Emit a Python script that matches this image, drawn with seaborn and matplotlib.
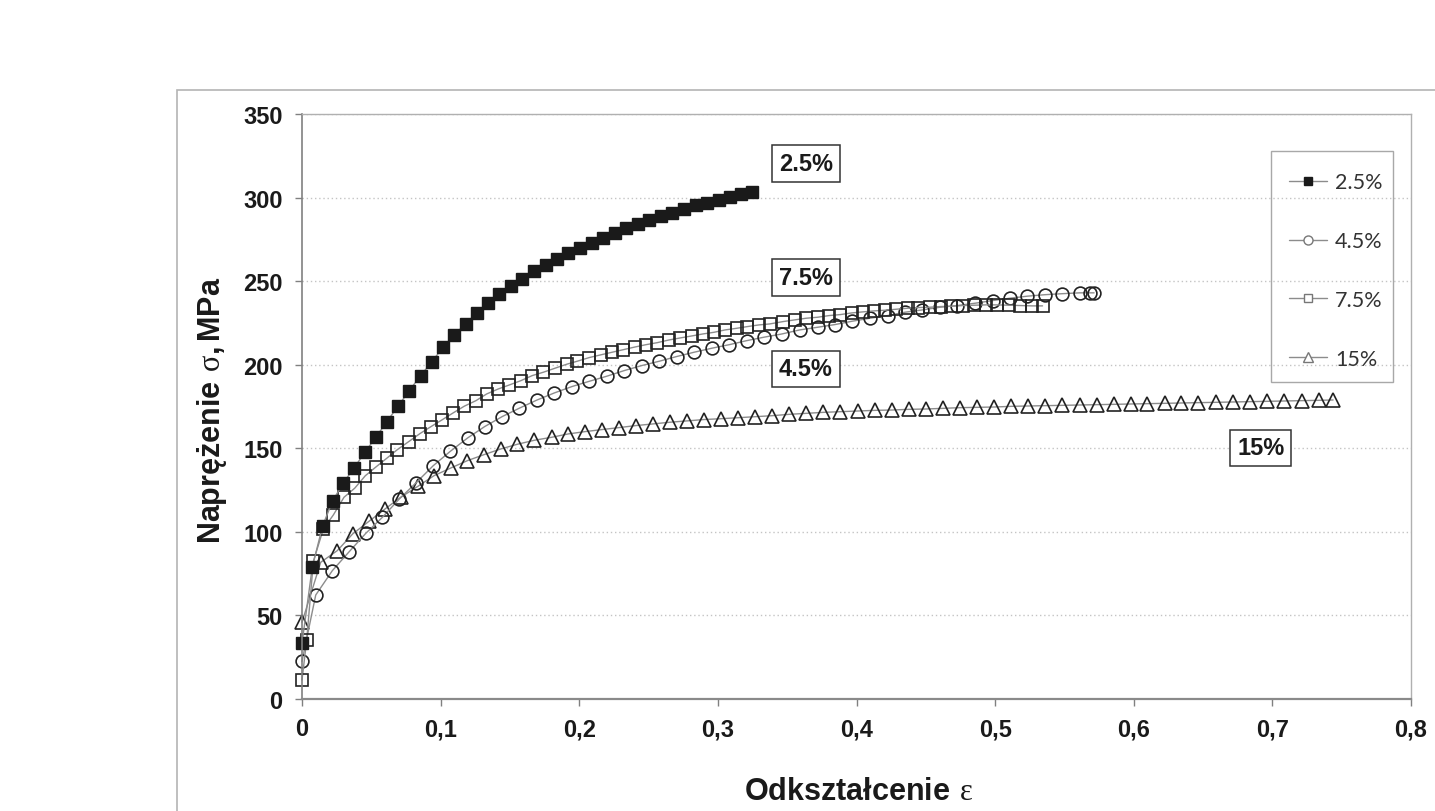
import numpy as np
import pandas as pd
import matplotlib
matplotlib.use("Agg")
import matplotlib.pyplot as plt
import seaborn as sns
from matplotlib.lines import Line2D
from matplotlib.patches import Rectangle

# strain (odkształcenie) and stress (naprężenie)
x25 = [0, 0.0074, 0.0149, 0.0221, 0.0298, 0.0375, 0.0457, 0.0536, 0.0613, 0.0695,
       0.0774, 0.0856, 0.0938, 0.1017, 0.1099, 0.1181, 0.126, 0.1344, 0.1424, 0.1508,
       0.159, 0.1674, 0.1758, 0.184, 0.1921, 0.2005, 0.209, 0.2174, 0.2256, 0.2337,
       0.2422, 0.2505, 0.259, 0.2671, 0.2756, 0.284, 0.2919, 0.3008, 0.3088, 0.3165, 0.3244]
y25 = [33.3, 78.8, 103.7, 118.5, 129.3, 138.2, 148.0, 157.0, 166.0, 175.5,
       184.5, 193.5, 201.9, 210.4, 217.8, 224.6, 230.8, 236.8, 242.2, 246.8,
       251.4, 256.0, 259.7, 263.3, 266.9, 270.1, 273.1, 276.1, 278.9, 281.5,
       284.1, 286.5, 288.9, 291.0, 293.0, 295.3, 297.0, 298.8, 300.6, 302.0, 303.4]

x45 = [0, 0.0099, 0.0219, 0.0339, 0.046, 0.058, 0.0702, 0.0822, 0.0947, 0.107,
       0.1195, 0.1318, 0.1445, 0.1568, 0.1693, 0.182, 0.1946, 0.2073, 0.2198, 0.2325,
       0.2451, 0.2578, 0.2703, 0.283, 0.2958, 0.3083, 0.3208, 0.3335, 0.3462, 0.3589,
       0.3719, 0.3843, 0.3967, 0.4097, 0.4224, 0.4349, 0.4476, 0.4603, 0.4727, 0.4856,
       0.4983, 0.5108, 0.5232, 0.5361, 0.5486, 0.561, 0.5686, 0.5714]
y45 = [22.5, 62.2, 76.8, 88.0, 99.1, 108.7, 119.7, 129.3, 139.6, 148.2,
       156.2, 163.0, 169.0, 174.0, 178.8, 183.1, 186.9, 190.1, 193.1, 196.5,
       199.5, 202.1, 204.9, 207.5, 209.9, 212.0, 214.4, 216.5, 218.4, 220.8,
       222.4, 224.0, 226.0, 227.8, 229.4, 231.4, 232.8, 234.4, 235.4, 236.8,
       238.4, 239.8, 241.0, 241.9, 242.5, 243.0, 243.0, 243.0]

x75 = [0, 0.0034, 0.0082, 0.0154, 0.0226, 0.0303, 0.038, 0.0457, 0.0536, 0.0611,
       0.0688, 0.077, 0.0851, 0.0931, 0.1012, 0.1091, 0.1171, 0.1255, 0.1332, 0.1416,
       0.1496, 0.158, 0.1661, 0.1741, 0.1825, 0.191, 0.1986, 0.2073, 0.2155, 0.2239,
       0.2318, 0.2402, 0.2482, 0.2563, 0.2647, 0.2727, 0.2811, 0.2891, 0.2972, 0.3051,
       0.3136, 0.3212, 0.3295, 0.3374, 0.347, 0.3553, 0.3636, 0.3719, 0.3802, 0.3884,
       0.3967, 0.4045, 0.4127, 0.4205, 0.4287, 0.437, 0.4447, 0.453, 0.4608, 0.4685,
       0.4768, 0.4851, 0.4934, 0.5016, 0.51, 0.5182, 0.5265, 0.5342]
y75 = [11.4, 35.3, 82.4, 101.7, 110.1, 120.7, 126.1, 133.6, 139.0, 144.0,
       149.2, 154.0, 158.8, 163.0, 167.1, 171.2, 175.2, 178.5, 182.5, 185.5,
       187.9, 190.5, 193.5, 195.5, 197.9, 200.3, 202.1, 204.3, 205.9, 207.5,
       209.0, 210.6, 212.0, 213.2, 214.8, 216.0, 217.2, 218.4, 219.4, 220.8,
       221.8, 222.8, 223.8, 224.4, 225.8, 226.8, 227.8, 228.4, 229.4, 230.0,
       231.0, 231.6, 232.2, 232.6, 233.2, 233.8, 234.2, 234.4, 234.8, 235.0,
       235.4, 235.6, 235.8, 235.8, 235.6, 235.4, 235.2, 235.2]

x15 = [0, 0.0135, 0.0255, 0.0366, 0.0483, 0.0599, 0.0712, 0.0837, 0.0952, 0.1073,
       0.1193, 0.1313, 0.1434, 0.1553, 0.1676, 0.1802, 0.1921, 0.2044, 0.2164, 0.2289,
       0.241, 0.2535, 0.2655, 0.278, 0.29, 0.3023, 0.3148, 0.3268, 0.3391, 0.3512,
       0.3636, 0.376, 0.3884, 0.4009, 0.4133, 0.4257, 0.4376, 0.45, 0.4624, 0.4746,
       0.487, 0.4994, 0.5118, 0.5237, 0.5361, 0.5486, 0.561, 0.5734, 0.5859, 0.5978,
       0.6099, 0.6223, 0.6342, 0.6466, 0.6591, 0.6714, 0.6839, 0.6963, 0.7087, 0.7212,
       0.7335, 0.7438]
y15 = [45.9, 81.8, 88.8, 98.8, 106.3, 113.7, 120.7, 127.3, 133.6, 138.2,
       142.6, 146.2, 149.6, 152.4, 154.8, 156.6, 158.6, 160.0, 161.2, 162.4,
       163.6, 164.6, 165.6, 166.4, 167.2, 167.7, 168.3, 168.9, 169.5, 170.3,
       170.9, 171.5, 171.9, 172.3, 172.7, 172.9, 173.3, 173.5, 173.9, 174.3,
       174.5, 174.7, 175.1, 175.3, 175.5, 175.7, 175.9, 176.1, 176.3, 176.5,
       176.7, 176.9, 177.1, 177.3, 177.5, 177.7, 177.9, 178.1, 178.3, 178.5,
       178.7, 178.9]

series_labels = ["2.5%", "4.5%", "7.5%", "15%"]
xticks = [0, 0.1, 0.2, 0.3, 0.4, 0.5, 0.6, 0.7, 0.8]
xtick_labels = ["0", "0,1", "0,2", "0,3", "0,4", "0,5", "0,6", "0,7", "0,8"]
yticks = [0, 50, 100, 150, 200, 250, 300, 350]

# boxed labels next to the curves: (text, x, y)
box_labels = [("2.5%", 0.3635, 320.4), ("7.5%", 0.3636, 252.2),
              ("4.5%", 0.3636, 197.5), ("15%", 0.6916, 150.2)]

sns.set_theme(style="white")
plt.rcParams["font.family"] = ["Liberation Sans", "DejaVu Sans"]
plt.rcParams["mathtext.fontset"] = "custom"
plt.rcParams["mathtext.rm"] = "Liberation Serif"
plt.rcParams["mathtext.bf"] = "Liberation Sans:bold"

fig = plt.figure(figsize=(14.35, 8.12), dpi=100)
ax = fig.add_axes([302 / 1435, 112 / 812, 1109 / 1435, 585 / 812])

# outer chart-area frame
fig.add_artist(Rectangle((177 / 1435, -0.2), 1.0, 0.2 + 721 / 812,
                         transform=fig.transFigure, fill=False,
                         ec="#b4b4b4", lw=1.2))

line_c = "#8c8c8c"
edge_c = "#222222"
common = dict(ax=ax, sort=False, estimator=None, color=line_c, lw=1.0,
              legend=False, clip_on=False)

# drawn back to front: 15%, 4.5%, 7.5%, 2.5%
sns.lineplot(x=x15, y=y15, marker="^", markersize=10, markerfacecolor="none",
             markeredgecolor=edge_c, markeredgewidth=1.2, **common)
sns.lineplot(x=x45, y=y45, marker="o", markersize=9.2, markerfacecolor="none",
             markeredgecolor=edge_c, markeredgewidth=1.2, **common)
sns.lineplot(x=x75, y=y75, marker="s", markersize=8.4, markerfacecolor="none",
             markeredgecolor=edge_c, markeredgewidth=1.2, **common)
sns.lineplot(x=x25, y=y25, marker="s", markersize=8.6, markerfacecolor="#1a1a1a",
             markeredgecolor="#1a1a1a", markeredgewidth=1.0, **common)

ax.set_xlim(0, 0.8)
ax.set_ylim(0, 350)
ax.set_xticks(xticks)
ax.set_xticklabels(xtick_labels)
ax.set_yticks(yticks)
ax.set_xlabel("")
ax.set_ylabel("")
ax.yaxis.grid(True, linestyle=(0, (1, 2)), color="#c4c4c4", lw=1)
ax.xaxis.grid(False)

for side in ["top", "right"]:
    ax.spines[side].set_color("#b0b0b0")
    ax.spines[side].set_linewidth(1.0)
ax.spines["left"].set_color("#808080")
ax.spines["left"].set_linewidth(1.2)
ax.spines["bottom"].set_color("#8a8a8a")
ax.spines["bottom"].set_linewidth(1.6)

ax.tick_params(axis="both", direction="out", length=5, width=1, color="#808080",
               labelsize=17, labelcolor="#1a1a1a")
ax.tick_params(axis="y", pad=9, left=True)
ax.tick_params(axis="x", pad=8, bottom=True)
for lbl in ax.get_xticklabels() + ax.get_yticklabels():
    lbl.set_fontweight("bold")

for txt, bx, by in box_labels:
    ax.text(bx, by, txt, ha="center", va="center", fontsize=17, fontweight="bold",
            color="#1a1a1a",
            bbox=dict(boxstyle="square,pad=0.28", fc="white", ec="#333333", lw=1.1))

# legend: entries without frame, frame drawn as its own box
handles = [
    Line2D([], [], color=line_c, lw=1, marker="s", markersize=6, mfc="#1a1a1a", mec="#1a1a1a"),
    Line2D([], [], color=line_c, lw=1, marker="o", markersize=6.5, mfc="white", mec="#777777"),
    Line2D([], [], color=line_c, lw=1, marker="s", markersize=6, mfc="white", mec="#777777"),
    Line2D([], [], color=line_c, lw=1, marker="^", markersize=7, mfc="white", mec="#777777"),
]
leg = ax.legend(handles, series_labels, loc="upper left",
                bbox_to_anchor=((1289 - 302) / 1109, (700 - 173.5) / 585),
                borderaxespad=0, borderpad=0, frameon=False,
                handlelength=1.75, handletextpad=0.38, labelspacing=1.8,
                prop={"family": "Lato", "size": 15.5})
for t in leg.get_texts():
    t.set_color("#333333")
fig.add_artist(Rectangle((1271 / 1435, 1 - 383 / 812), 122 / 1435, 231 / 812,
                         transform=fig.transFigure, fill=False,
                         ec="#a8a8a8", lw=1.0))

fig.text(858 / 1435, 1 - 791.7 / 812, r"$\mathbf{Odkształcenie}\ \mathrm{ε}$",
         ha="center", va="center", fontsize=22, color="#1a1a1a")
fig.text(212 / 1435, 1 - 410 / 812, r"$\mathbf{Naprężenie}\ \mathrm{σ}\mathbf{,}\,\mathbf{MPa}$",
         ha="center", va="center", rotation=90, fontsize=22, color="#1a1a1a")

fig.savefig("out.png", dpi=100)
